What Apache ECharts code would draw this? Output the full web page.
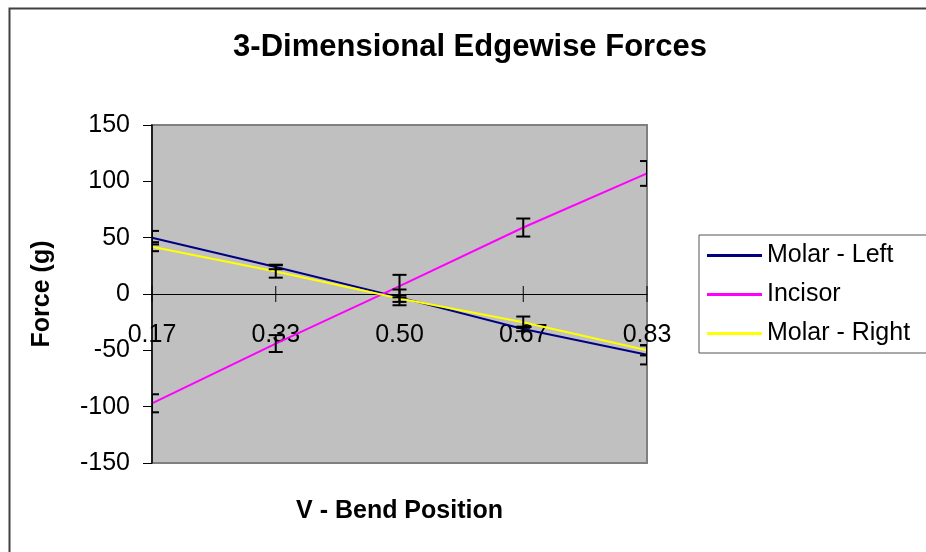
<!DOCTYPE html>
<html>
<head>
<meta charset="utf-8">
<title>3-Dimensional Edgewise Forces</title>
<script src="https://cdn.jsdelivr.net/npm/echarts@6/dist/echarts.min.js"></script>
<style>
    html, body { margin: 0; padding: 0; background: #fff; }
    #chart { width: 926px; height: 552px; }
</style>
</head>
<body>
<div id="chart"></div>
<script>
// category labels on the x axis
var positions = ['0.17', '0.33', '0.50', '0.67', '0.83'];

// series values
var molarLeft = [50, 24, -3, -31, -54];
var incisor = [-97, -44, 7, 59, 107];
var molarRight = [42, 20, -4, -25, -50];

// error bar half-lengths
var molarLeftErr = [6, 2, 7, 2, 8.5];
var incisorErr = [8, 7.5, 10, 8, 11];
var molarRightErr = [4, 5.5, 3, 5, 4.5];

var yTicks = [-150, -100, -50, 0, 50, 100, 150];

function errData(vals, errs) {
    return vals.map(function (v, i) { return [i, v - errs[i], v + errs[i]]; });
}

function renderErr(params, api) {
    var lo = api.coord([api.value(0), api.value(1)]);
    var hi = api.coord([api.value(0), api.value(2)]);
    var w = 7;
    var style = { stroke: '#000', lineWidth: 2, fill: null };
    return {
        type: 'group',
        children: [
            { type: 'line', shape: { x1: lo[0], y1: lo[1], x2: hi[0], y2: hi[1] }, style: style },
            { type: 'line', shape: { x1: lo[0] - w, y1: lo[1], x2: lo[0] + w, y2: lo[1] }, style: style },
            { type: 'line', shape: { x1: hi[0] - w, y1: hi[1], x2: hi[0] + w, y2: hi[1] }, style: style }
        ]
    };
}

// x axis ticks cross the zero line (half above, half below)
function renderTick(params, api) {
    var p = api.coord([api.value(0), 0]);
    return { type: 'line', shape: { x1: p[0], y1: p[1] - 8, x2: p[0], y2: p[1] + 8 },
             style: { stroke: '#000', lineWidth: 1 } };
}

var font = 'Arial, "Liberation Sans", sans-serif';
var myChart = echarts.init(document.getElementById('chart'));
var option = {
    animation: false,
    textStyle: { fontFamily: font, color: '#000' },
    title: {
        text: '3-Dimensional Edgewise Forces',
        left: 470,
        top: 32,
        padding: 0,
        textAlign: 'center',
        textStyle: { fontSize: 31, fontWeight: 'bold', color: '#000', fontFamily: font }
    },
    graphic: [
        { type: 'rect', left: 7, top: 6, shape: { width: 1000, height: 1000 },
          style: { fill: null, stroke: '#404040', lineWidth: 2 }, silent: true }
    ],
    legend: {
        left: 699,
        top: 235,
        orient: 'vertical',
        padding: [8, 30, 7, 8],
        itemGap: 14,
        itemWidth: 55,
        itemHeight: 3,
        icon: 'rect',
        borderColor: '#555',
        borderWidth: 1,
        textStyle: { fontSize: 25, lineHeight: 25, color: '#000', fontFamily: font },
        data: ['Molar - Left', 'Incisor', 'Molar - Right']
    },
    grid: {
        left: 152, top: 125, width: 495, height: 338,
        outerBoundsMode: 'none',
        containLabel: false,
        show: true,
        backgroundColor: '#C0C0C0',
        borderColor: '#808080',
        borderWidth: 2
    },
    xAxis: {
        type: 'category',
        data: positions,
        boundaryGap: false,
        position: 'bottom',
        offset: -169, // axis sits on the zero line
        name: 'V - Bend Position',
        nameLocation: 'middle',
        nameGap: 205,
        nameTextStyle: { fontSize: 25, fontWeight: 'bold', color: '#000', fontFamily: font },
        axisLine: { onZero: false, lineStyle: { color: '#000', width: 1 } },
        axisTick: { show: false },
        axisLabel: { fontSize: 25, color: '#000', margin: 29, fontFamily: font },
        splitLine: { show: false },
        z: 0
    },
    yAxis: {
        type: 'value',
        min: -150,
        max: 150,
        interval: 50,
        name: 'Force (g)',
        nameLocation: 'middle',
        nameGap: 97,
        nameTextStyle: { fontSize: 25, fontWeight: 'bold', color: '#000', fontFamily: font },
        axisLine: { show: true, onZero: false, lineStyle: { color: '#000', width: 1.5 } },
        axisTick: { show: true, length: 9, lineStyle: { color: '#000' } },
        axisLabel: {
            fontSize: 25, color: '#000', margin: 22, fontFamily: font,
            formatter: function (v) { return yTicks.indexOf(v) >= 0 ? String(v) : ''; }
        },
        splitLine: { show: false }
    },
    series: [
        { type: 'custom', renderItem: renderTick, data: positions.map(function (p, i) { return [i]; }),
          clip: false, silent: true, z: 1 },
        { name: 'Molar - Left', type: 'line', data: molarLeft, symbol: 'none',
          itemStyle: { color: '#000080' }, lineStyle: { color: '#000080', width: 2 } },
        { name: 'Incisor', type: 'line', data: incisor, symbol: 'none',
          itemStyle: { color: '#FF00FF' }, lineStyle: { color: '#FF00FF', width: 2 } },
        { name: 'Molar - Right', type: 'line', data: molarRight, symbol: 'none',
          itemStyle: { color: '#FFFF00' }, lineStyle: { color: '#FFFF00', width: 2 } },
        { type: 'custom', renderItem: renderErr, data: errData(molarLeft, molarLeftErr), clip: true, z: 5 },
        { type: 'custom', renderItem: renderErr, data: errData(incisor, incisorErr), clip: true, z: 5 },
        { type: 'custom', renderItem: renderErr, data: errData(molarRight, molarRightErr), clip: true, z: 5 }
    ]
};
myChart.setOption(option);
</script>
</body>
</html>
